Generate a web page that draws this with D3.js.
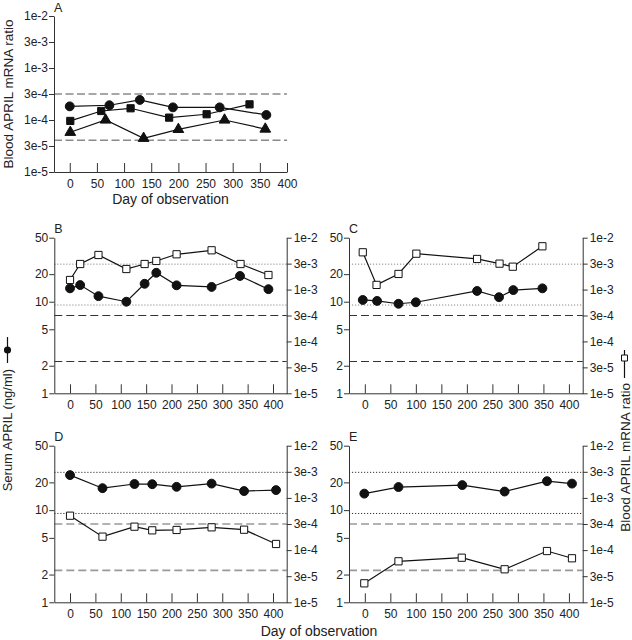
<!DOCTYPE html>
<html><head><meta charset="utf-8">
<script src="https://cdn.jsdelivr.net/npm/d3@7"></script>
<style>
body{margin:0;background:#fff}
svg{display:block}
text{font-family:"Liberation Sans",Arial,sans-serif;fill:#222}
</style>
</head><body><svg id="c" width="632" height="640"></svg>
<script>
// ---------- data ----------
const dayTicks = [0,50,100,150,200,250,300,350,400];
const mrnaTicks = [1e-2, Math.pow(10,-2.5), 1e-3, Math.pow(10,-3.5), 1e-4, Math.pow(10,-4.5), 1e-5];
const mrnaTickLabels = ["1e-2","3e-3","1e-3","3e-4","1e-4","3e-5","1e-5"];
const serumTicks = [50,20,10,5,2,1];
const serumTickLabels = ["50","20","10","5","2","1"];
const mrnaNormal = [4.1e-5, 3.16e-4];   // dashed reference lines
const serumNormal = [9.2, 25.7];        // dotted reference lines

// Panel A (three patients, blood APRIL mRNA ratio)
const aCircleDay = [0,73,129,190,276,362];
const aCircleVal = [1.83e-4,1.92e-4,2.43e-4,1.75e-4,1.75e-4,1.25e-4];
const aSquareDay = [1,58,112,183,252,331];
const aSquareVal = [9.6e-5,1.49e-4,1.68e-4,1.11e-4,1.29e-4,2.0e-4];
const aTriangleDay = [1,66,136,200,285,360];
const aTriangleVal = [5.8e-5,1.0e-4,4.45e-5,6.6e-5,1.0e-4,6.7e-5];

// Panel B
const bSerumDay = [0,20,56,111,147,170,210,279,335,391];
const bSerumVal = [14.0,15.2,11.5,10.0,15.7,20.7,15.1,14.5,19.1,13.7];
const bMrnaDay = [0,20,56,111,147,170,210,279,336,391];
const bMrnaVal = [1.53e-3,3.11e-3,4.64e-3,2.49e-3,3.11e-3,3.56e-3,4.79e-3,5.72e-3,3.11e-3,1.91e-3];

// Panel C
const cSerumDay = [-4,24,66,100,220,263,291,348];
const cSerumVal = [10.45,10.2,9.5,9.86,13.1,11.2,13.4,14.0];
const cMrnaDay = [-4,23,66,101,220,264,290,348];
const cMrnaVal = [5.23e-3,1.23e-3,2.0e-3,4.92e-3,3.89e-3,3.16e-3,2.76e-3,6.83e-3];

// Panel D
const dSerumDay = [0,64,127,162,210,279,343,406];
const dSerumVal = [24.0,17.3,19.2,19.1,17.9,19.4,16.1,16.5];
const dMrnaDay = [0,64,127,162,210,279,343,406];
const dMrnaVal = [4.56e-4,1.81e-4,2.81e-4,2.39e-4,2.43e-4,2.73e-4,2.46e-4,1.31e-4];

// Panel E
const eSerumDay = [-1,66,191,274,357,406];
const eSerumVal = [15.1,17.8,18.7,15.9,20.6,19.4];
const eMrnaDay = [-1,66,190,274,357,406];
const eMrnaVal = [2.31e-5,6.1e-5,7.15e-5,4.29e-5,9.6e-5,6.97e-5];

// ---------- drawing ----------
const svg = d3.select("#c");
const zip = (a,b) => a.map((d,i)=>[d,b[i]]);

function mrnaAxisFmt(d){ const i = mrnaTicks.indexOf(d); return mrnaTickLabels[i]; }
function serumAxisFmt(d){ const i = serumTicks.indexOf(d); return serumTickLabels[i]; }

function styleAxis(g){
  g.selectAll("path.domain").attr("stroke","#333").attr("stroke-width",1);
  g.selectAll(".tick line").attr("stroke","#333").attr("stroke-width",1);
  g.selectAll(".tick text").attr("fill","#222").style("font-size","12px")
    .style("font-family",'"Liberation Sans",Arial,sans-serif');
}

function xAxis(g, x, y0){
  const ax = g.append("g").attr("transform",`translate(0,${y0})`)
    .call(d3.axisBottom(x).tickValues(dayTicks).tickSizeInner(-9).tickSizeOuter(0).tickPadding(7));
  styleAxis(ax);
}

function line(g, x, y, days, vals){
  g.append("path").datum(zip(days,vals))
    .attr("fill","none").attr("stroke","#111").attr("stroke-width",1.2)
    .attr("d", d3.line().x(d=>x(d[0])).y(d=>y(d[1])));
}
function marks(g, x, y, days, vals, type, fill){
  const sizes = {circle:62, square:52, triangle:50};
  const sym = {circle:d3.symbolCircle, square:d3.symbolSquare, triangle:d3.symbolTriangle}[type];
  g.selectAll(null).data(zip(days,vals)).join("path")
    .attr("transform", d=>`translate(${x(d[0])},${y(d[1])})`)
    .attr("d", d3.symbol(sym, sizes[type]))
    .attr("fill", fill).attr("stroke","#111").attr("stroke-width",1);
}
function hline(g, x0, x1, yv, color, dash, w){
  g.append("line").attr("x1",x0).attr("x2",x1).attr("y1",yv).attr("y2",yv)
    .attr("stroke",color).attr("stroke-width",w).attr("stroke-dasharray",dash);
}

// Panel A
(function(){
  const L=54, R=287, T=16, B=172;
  const x = d3.scaleLinear().domain([-29,400]).range([L,R]);
  const y = d3.scaleLog().domain([1e-5,1e-2]).range([B,T]);
  const g = svg.append("g");
  mrnaNormal.forEach(v=>hline(g,L,R,y(v),"#8a8a8a","8,3.5",1.5));
  const ya = g.append("g").attr("transform",`translate(${L},0)`)
    .call(d3.axisLeft(y).tickValues(mrnaTicks).tickFormat(mrnaAxisFmt).tickSizeInner(5).tickSizeOuter(0).tickPadding(1));
  styleAxis(ya);
  xAxis(g, x, B);
  line(g,x,y,aCircleDay,aCircleVal);
  line(g,x,y,aSquareDay,aSquareVal);
  line(g,x,y,aTriangleDay,aTriangleVal);
  marks(g,x,y,aCircleDay,aCircleVal,"circle","#111");
  marks(g,x,y,aSquareDay,aSquareVal,"square","#111");
  marks(g,x,y,aTriangleDay,aTriangleVal,"triangle","#111");
  g.append("text").attr("x",54).attr("y",11.7).style("font-size","12.5px").text("A");
  g.append("text").attr("transform",`translate(13,${(T+B)/2}) rotate(-90)`)
    .attr("text-anchor","middle").style("font-size","13.5px").text("Blood APRIL mRNA ratio");
  g.append("text").attr("x",(L+R)/2).attr("y",204.3).attr("text-anchor","middle")
    .style("font-size","14px").text("Day of observation");
})();

function dualPanel(L,R,T,B,letter,sDay,sVal,mDay,mVal,dotColor,dashColor,dashW){
  const x = d3.scaleLinear().domain([-31,427]).range([L,R]);
  const yS = d3.scaleLog().domain([1,50]).range([B,T]);
  const yM = d3.scaleLog().domain([1e-5,1e-2]).range([B,T]);
  const g = svg.append("g");
  serumNormal.forEach(v=>hline(g,L,R,yS(v),dotColor,"1.2,1.8",1));
  mrnaNormal.forEach(v=>hline(g,L,R,yM(v),dashColor,"8,4",dashW));
  const yl = g.append("g").attr("transform",`translate(${L},0)`)
    .call(d3.axisLeft(yS).tickValues(serumTicks).tickFormat(serumAxisFmt).tickSizeInner(5).tickSizeOuter(0).tickPadding(1));
  styleAxis(yl);
  const yr = g.append("g").attr("transform",`translate(${R},0)`)
    .call(d3.axisRight(yM).tickValues(mrnaTicks).tickFormat(mrnaAxisFmt).tickSizeInner(5).tickSizeOuter(0).tickPadding(2));
  styleAxis(yr);
  xAxis(g, x, B);
  line(g,x,yM,mDay,mVal);
  line(g,x,yS,sDay,sVal);
  marks(g,x,yM,mDay,mVal,"square","#fff");
  marks(g,x,yS,sDay,sVal,"circle","#111");
  g.append("text").attr("x",L).attr("y",T-5).style("font-size","12.5px").text(letter);
}

dualPanel(54.3,286.7,237.7,393.3,"B",bSerumDay,bSerumVal,bMrnaDay,bMrnaVal,"#888","#333",1.1);
dualPanel(349,582.7,237.7,393.3,"C",cSerumDay,cSerumVal,cMrnaDay,cMrnaVal,"#888","#333",1.1);
dualPanel(54.3,286.7,445.7,602.3,"D",dSerumDay,dSerumVal,dMrnaDay,dMrnaVal,"#333","#999",1.7);
dualPanel(349,582.7,445.7,602.3,"E",eSerumDay,eSerumVal,eMrnaDay,eMrnaVal,"#333","#999",1.7);

// shared titles
svg.append("text").attr("x",319).attr("y",636).attr("text-anchor","middle")
  .style("font-size","14px").text("Day of observation");
svg.append("text").attr("transform","translate(12,369) rotate(-90)")
  .attr("text-anchor","end").style("font-size","13px").text("Serum APRIL (ng/ml)");
svg.append("line").attr("x1",7.5).attr("x2",7.5).attr("y1",337).attr("y2",363).attr("stroke","#111").attr("stroke-width",1.2);
svg.append("path").attr("transform","translate(7.5,350)").attr("d",d3.symbol(d3.symbolCircle,40)).attr("fill","#111");
svg.append("text").attr("transform","translate(629.5,383) rotate(-90)")
  .attr("text-anchor","end").style("font-size","13.5px").text("Blood APRIL mRNA ratio");
svg.append("line").attr("x1",624.5).attr("x2",624.5).attr("y1",350).attr("y2",378).attr("stroke","#111").attr("stroke-width",1.2);
svg.append("path").attr("transform","translate(624.5,358)").attr("d",d3.symbol(d3.symbolSquare,36)).attr("fill","#fff").attr("stroke","#111");
</script>
</body></html>
